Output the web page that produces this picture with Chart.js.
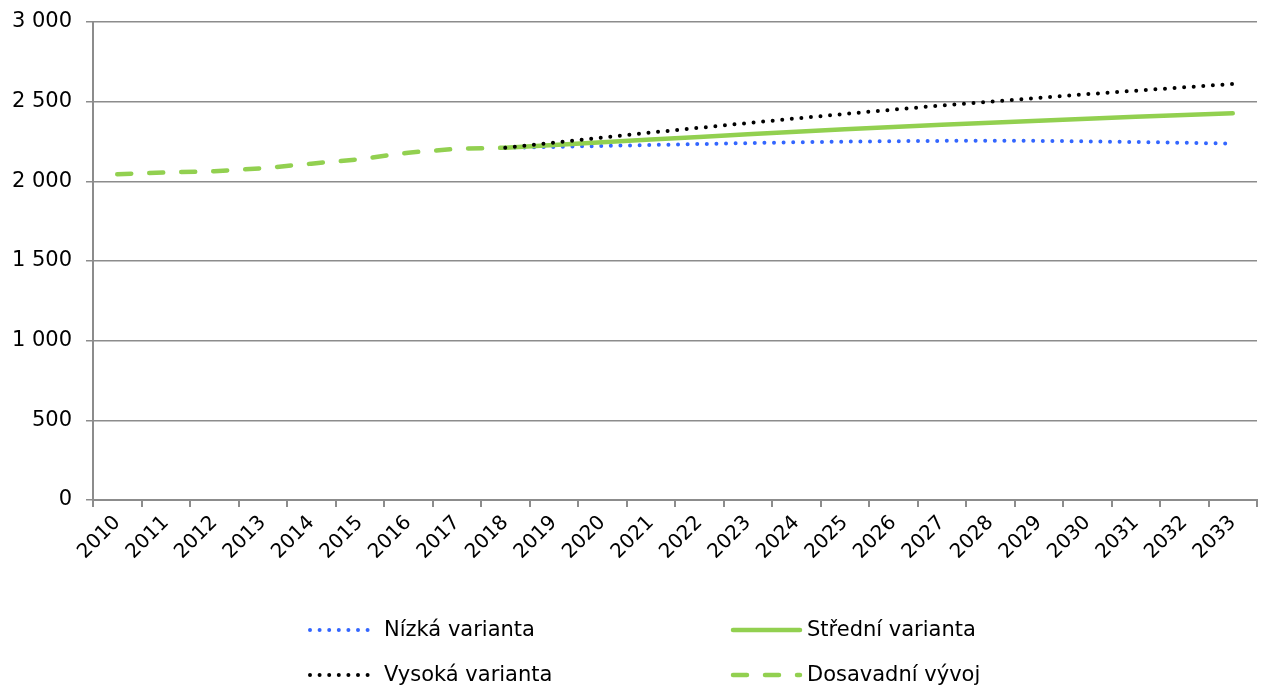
<!DOCTYPE html>
<html>
<head>
<meta charset="utf-8">
<script src="https://cdn.jsdelivr.net/npm/chart.js@4"></script>
<style>
  html, body { margin: 0; padding: 0; background: #fff; }
  #wrap { width: 1263px; height: 688px; }
</style>
</head>
<body>
<div id="wrap"><canvas id="chart" width="1263" height="688"></canvas></div>
<script>
const years = ['2010', '2011', '2012', '2013', '2014', '2015', '2016', '2017', '2018', '2019', '2020', '2021',
    '2022', '2023', '2024', '2025', '2026', '2027', '2028', '2029', '2030', '2031', '2032', '2033'];

const dosavadni = [2045, 2056, 2063, 2082, 2111, 2139, 2180, 2204, 2211,
    null, null, null, null, null, null, null, null, null, null, null, null, null, null, null];

const pad = new Array(8).fill(null);
const nizka = pad.concat([2211, 2216, 2222, 2228, 2234, 2240, 2245, 2249, 2252, 2254, 2255, 2254, 2251, 2247, 2242, 2237]);
const stredni = pad.concat([2211, 2228, 2245, 2262, 2279, 2295, 2311, 2327, 2341, 2355, 2368, 2381, 2393, 2405, 2416, 2427]);
const vysoka = pad.concat([2211, 2243, 2275, 2306, 2336, 2366, 2395, 2423, 2450, 2476, 2500, 2524, 2547, 2569, 2590, 2611]);

const FONT = 'DejaVu Sans';
const BLUE = '#3366FF';
const GREEN = '#92D050';
const GRID = '#8c8c8c';

function spaced(v) {
    return String(v).replace(/\B(?=(\d{3})+(?!\d))/g, ' ');
}

// legend in two columns under the chart, like the original
const legendGrid = {
    id: 'legendGrid',
    afterDraw(chart) {
        const {ctx} = chart;
        const items = [
            {ds: 0, x: 308, w: 62, tx: 384, y: 630},
            {ds: 1, x: 731, w: 69, tx: 807, y: 630},
            {ds: 2, x: 308, w: 62, tx: 384, y: 675},
            {ds: 3, x: 731, w: 69, tx: 807, y: 675},
        ];
        ctx.save();
        ctx.font = '21px "' + FONT + '"';
        ctx.textBaseline = 'middle';
        ctx.textAlign = 'left';
        for (const it of items) {
            const d = chart.data.datasets[it.ds];
            ctx.beginPath();
            ctx.strokeStyle = d.borderColor;
            ctx.lineWidth = d.borderWidth;
            ctx.lineCap = d.borderCapStyle || 'butt';
            ctx.setLineDash(d.borderDash || []);
            ctx.moveTo(it.x + 2, it.y);
            ctx.lineTo(it.x + it.w, it.y);
            ctx.stroke();
            ctx.setLineDash([]);
            ctx.fillStyle = '#000';
            ctx.fillText(d.label, it.tx, it.y + 1);
        }
        ctx.restore();
    }
};

const ctx = document.getElementById('chart').getContext('2d');
new Chart(ctx, {
    type: 'line',
    data: {
        labels: years,
        datasets: [
            {
                label: 'Nízká varianta',
                data: nizka,
                borderColor: BLUE,
                borderWidth: 4,
                borderDash: [0, 9.6],
                borderCapStyle: 'round',
                order: 3,
            },
            {
                label: 'Střední varianta',
                data: stredni,
                borderColor: GREEN,
                borderWidth: 4.5,
                borderCapStyle: 'round',
                order: 2,
            },
            {
                label: 'Vysoká varianta',
                data: vysoka,
                borderColor: '#000',
                borderWidth: 4,
                borderDash: [0, 9.6],
                borderCapStyle: 'round',
                order: 1,
            },
            {
                label: 'Dosavadní vývoj',
                data: dosavadni,
                borderColor: GREEN,
                borderWidth: 4.5,
                borderDash: [14, 18],
                borderCapStyle: 'round',
                order: 4,
            },
        ]
    },
    options: {
        responsive: false,
        animation: false,
        spanGaps: false,
        elements: {
            point: {radius: 0, hoverRadius: 0},
            line: {tension: 0, fill: false},
        },
        layout: {padding: {top: 22, right: 6, left: 0, bottom: 0}},
        scales: {
            x: {
                offset: true,
                afterFit: s => { s.height = 188; s.paddingLeft = 0; s.paddingRight = 0; },
                grid: {
                    offset: true,
                    drawOnChartArea: false,
                    drawTicks: true,
                    tickLength: 7,
                    color: GRID,
                    lineWidth: 2,
                },
                border: {color: GRID, width: 2},
                ticks: {
                    autoSkip: false,
                    maxRotation: 45,
                    minRotation: 45,
                    padding: 4,
                    color: '#000',
                    font: {family: FONT, size: 20},
                },
            },
            y: {
                min: 0,
                max: 3000,
                afterFit: s => { s.width = 93; s.paddingTop = 0; s.paddingBottom = 0; },
                grid: {
                    color: GRID,
                    lineWidth: 1.5,
                    tickLength: 7,
                },
                border: {color: GRID, width: 2},
                ticks: {
                    stepSize: 500,
                    padding: 14,
                    color: '#000',
                    font: {family: FONT, size: 21},
                    callback: v => spaced(v),
                },
            },
        },
        plugins: {
            legend: {display: false},
            tooltip: {enabled: false},
        },
    },
    plugins: [legendGrid],
});
</script>
</body>
</html>
